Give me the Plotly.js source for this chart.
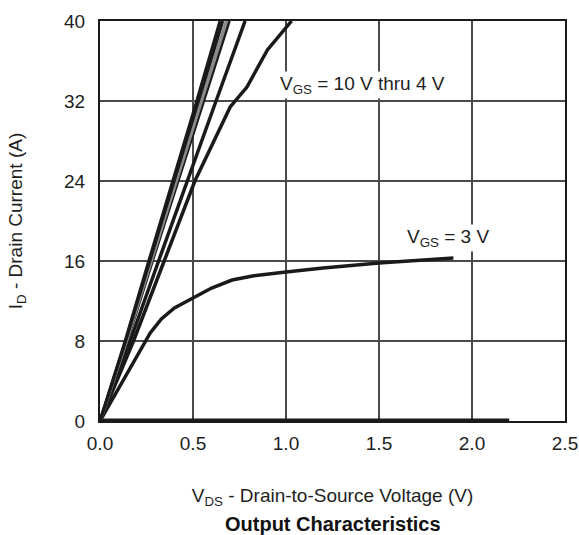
<!DOCTYPE html>
<html>
<head>
<meta charset="utf-8">
<script src="https://cdn.plot.ly/plotly-3.0.1.min.js"></script>
<style>html,body{margin:0;padding:0;background:#fff;}#chart{width:579px;height:535px;}</style>
</head>
<body>
<div id="chart"></div>
<script>
// VGS = 10 V thru 4 V family (steep, nearly linear curves)
const vdsA = [0, 0.135, 0.262, 0.392, 0.52, 0.645];
const idA  = [0, 8, 16, 24, 32, 40];
const vdsB = [0, 0.138, 0.268, 0.40, 0.53, 0.66];
const idB  = [0, 8, 16, 24, 32, 40];
const vdsC = [0, 0.142, 0.275, 0.41, 0.545, 0.68];
const idC  = [0, 8, 16, 24, 32, 40];
const vdsD = [0, 0.146, 0.282, 0.42, 0.558, 0.695];
const idD  = [0, 8, 16, 24, 32, 40];
const vdsE = [0, 0.162, 0.315, 0.468, 0.624, 0.78];
const idE  = [0, 8, 16, 24, 32, 40];
const vds4 = [0, 0.18, 0.345, 0.51, 0.70, 0.79, 0.90, 1.03];
const id4  = [0, 8, 16, 24, 31.4, 33.4, 37.1, 40];
// VGS = 3 V
const vds3 = [0, 0.1, 0.2, 0.27, 0.33, 0.4, 0.5, 0.6, 0.71, 0.82, 1.0, 1.2, 1.5, 1.9];
const id3  = [0, 3.3, 6.5, 8.8, 10.2, 11.3, 12.3, 13.3, 14.1, 14.5, 14.9, 15.3, 15.8, 16.3];
// VGS = 2 V (off)
const vds2 = [0, 2.2];
const id2  = [0, 0];

const xTicks = [0, 0.5, 1.0, 1.5, 2.0, 2.5];
const xTickLabels = ['0.0', '0.5', '1.0', '1.5', '2.0', '2.5'];
const yTicks = [0, 8, 16, 24, 32, 40];

const blk = '#1a1a1a';
function tr(x, y, color, w) {
  return {x: x, y: y, type: 'scatter', mode: 'lines', line: {color: color, width: w}, hoverinfo: 'skip', showlegend: false};
}
const data = [
  tr(vds2, id2, blk, 5),
  tr(vds3, id3, blk, 3.5),
  tr(vds4, id4, blk, 3.5),
  tr(vdsE, idE, blk, 3.5),
  tr(vdsD, idD, blk, 3),
  tr(vdsC, idC, '#8a8a8a', 3.5),
  tr(vdsB, idB, blk, 3),
  tr(vdsA, idA, blk, 3)
];

const fam = 'Liberation Sans, Arial, sans-serif';
const font = {family: fam, size: 19, color: '#1e1e1e'};
const layout = {
  width: 579, height: 535,
  margin: {l: 100, r: 14, t: 21, b: 114},
  paper_bgcolor: '#fff', plot_bgcolor: '#fff',
  font: font,
  showlegend: false,
  xaxis: {
    range: [0, 2.5], tickvals: xTicks, ticktext: xTickLabels,
    showgrid: true, gridcolor: '#4a4a4a', gridwidth: 1.5,
    showline: true, mirror: true, linecolor: '#1a1a1a', linewidth: 2,
    ticks: '', zeroline: false, tickfont: font, ticklabelstandoff: 4,
    title: {text: 'V<sub>DS</sub> - Drain-to-Source Voltage (V)', font: font, standoff: 36}
  },
  yaxis: {
    range: [0, 40], tickvals: yTicks,
    showgrid: true, gridcolor: '#4a4a4a', gridwidth: 1.5,
    showline: true, mirror: true, linecolor: '#1a1a1a', linewidth: 2,
    ticks: '', zeroline: false, tickfont: font, ticklabelstandoff: 9,
    title: {text: 'I<sub>D</sub> - Drain Current (A)', font: font, standoff: 36}
  },
  annotations: [
    {x: 1.41, y: 33.6, xref: 'x', yref: 'y', text: 'V<sub>GS</sub> = 10 V thru 4 V', showarrow: false,
     bgcolor: '#fff', font: font},
    {x: 1.87, y: 18.3, xref: 'x', yref: 'y', text: 'V<sub>GS</sub> = 3 V', showarrow: false,
     bgcolor: '#fff', font: font},
    {x: 0.5, y: -0.29, xref: 'paper', yref: 'paper', text: '<b>Output Characteristics</b>', showarrow: false,
     font: {family: fam, size: 20, color: '#111'}}
  ]
};
Plotly.newPlot('chart', data, layout, {displayModeBar: false, staticPlot: true});
</script>
</body>
</html>
